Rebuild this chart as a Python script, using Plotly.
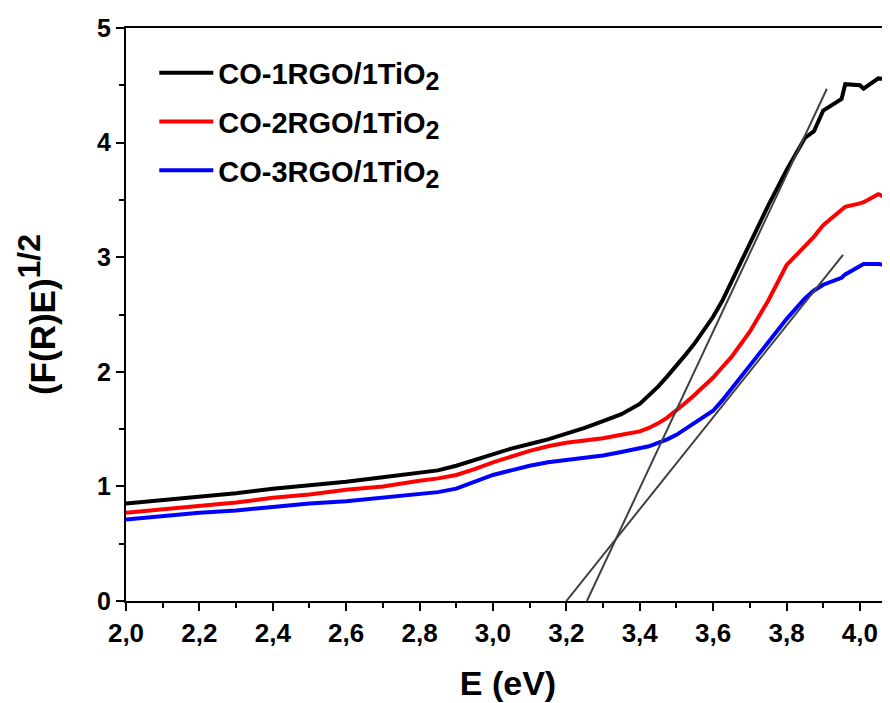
import plotly.graph_objects as go

# Photon energy (eV)
energy = [2.00, 2.10, 2.20, 2.30, 2.40, 2.50, 2.60, 2.70, 2.80, 2.85,
          2.90, 2.95, 3.00, 3.05, 3.10, 3.15, 3.20, 3.25, 3.30, 3.35,
          3.40, 3.425, 3.45, 3.475, 3.50, 3.525, 3.55, 3.575, 3.60, 3.625,
          3.65, 3.70, 3.75, 3.80, 3.85, 3.875, 3.90, 3.95, 3.96, 4.00,
          4.01, 4.05, 4.08]

co1 = [0.85, 0.88, 0.91, 0.94, 0.98, 1.01, 1.04, 1.08, 1.12, 1.14,
       1.18, 1.23, 1.28, 1.33, 1.37, 1.41, 1.46, 1.51, 1.57, 1.63,
       1.72, 1.79, 1.87, 1.96, 2.05, 2.15, 2.25, 2.36, 2.48, 2.62,
       2.79, 3.12, 3.45, 3.76, 4.04, 4.10, 4.28, 4.38, 4.51, 4.50,
       4.47, 4.56, 4.55]

co2 = [0.77, 0.80, 0.83, 0.86, 0.90, 0.93, 0.97, 1.00, 1.05, 1.07,
       1.10, 1.15, 1.21, 1.26, 1.31, 1.35, 1.38, 1.40, 1.42, 1.45,
       1.48, 1.51, 1.55, 1.60, 1.66, 1.73, 1.80, 1.87, 1.95, 2.04,
       2.13, 2.35, 2.62, 2.93, 3.10, 3.18, 3.28, 3.42, 3.44, 3.47,
       3.48, 3.55, 3.51]

co3 = [0.71, 0.74, 0.77, 0.79, 0.82, 0.85, 0.87, 0.90, 0.93, 0.95,
       0.98, 1.04, 1.10, 1.14, 1.18, 1.21, 1.23, 1.25, 1.27, 1.30,
       1.33, 1.35, 1.38, 1.41, 1.45, 1.50, 1.55, 1.60, 1.66, 1.75,
       1.85, 2.05, 2.26, 2.46, 2.64, 2.71, 2.76, 2.82, 2.85, 2.93,
       2.94, 2.94, 2.93]

SUB2 = "<sub><span style='font-size:25px'>2</span></sub>"
series_names = ["CO-1RGO/1TiO" + SUB2, "CO-2RGO/1TiO" + SUB2, "CO-3RGO/1TiO" + SUB2]
series_colors = ["#000000", "#ff0000", "#0000ff"]

# Tangent (band-gap extrapolation) lines
fit1_x = [3.256, 3.91]
fit1_y = [0.0, 4.47]
fit2_x = [3.20, 3.954]
fit2_y = [0.0, 3.02]

x_ticks = [2.0, 2.2, 2.4, 2.6, 2.8, 3.0, 3.2, 3.4, 3.6, 3.8, 4.0]
y_ticks = [0, 1, 2, 3, 4, 5]

FONT = "Liberation Sans, Arial, sans-serif"

fig = go.Figure()
for name, ys, col in zip(series_names, [co1, co2, co3], series_colors):
    fig.add_trace(go.Scatter(x=energy, y=ys, mode="lines", name=name,
                             legendgroup=name,
                             line=dict(color=col, width=4)))

for fx, fy in [(fit1_x, fit1_y), (fit2_x, fit2_y)]:
    fig.add_trace(go.Scatter(x=fx, y=fy, mode="lines", showlegend=False,
                             line=dict(color="#404040", width=2)))

fig.update_layout(
    width=882, height=695,
    margin=dict(l=118, r=0, t=20, b=102, autoexpand=False),
    plot_bgcolor="white", paper_bgcolor="white",
    separators=",.",
    font=dict(family=FONT, color="black"),
    showlegend=True,
    legend=dict(x=0.037, y=0.966, xanchor="left", yanchor="top",
                bgcolor="rgba(0,0,0,0)", borderwidth=0,
                font=dict(family=FONT, size=29, weight="bold", color="black"),
                tracegroupgap=8, itemwidth=54),
)

fig.update_xaxes(
    range=[2.0, 4.082], tickvals=x_ticks, tickformat=".1f", automargin=False,
    showgrid=False, zeroline=False,
    showline=True, linecolor="black", linewidth=2, mirror=True,
    ticks="outside", ticklen=8, tickwidth=2, tickcolor="black",
    minor=dict(dtick=0.1, ticks="outside", ticklen=5, tickwidth=2, tickcolor="black"),
    tickfont=dict(family=FONT, size=26, weight="bold", color="black"),
    title=dict(text="E (eV)", standoff=24,
               font=dict(family=FONT, size=34, weight="bold", color="black")),
)

fig.update_yaxes(
    range=[0, 5], tickvals=y_ticks, automargin=False,
    showgrid=False, zeroline=False,
    showline=True, linecolor="black", linewidth=2, mirror=False,
    ticks="outside", ticklen=8, tickwidth=2, tickcolor="black",
    minor=dict(dtick=0.5, ticks="outside", ticklen=5, tickwidth=2, tickcolor="black"),
    tickfont=dict(family=FONT, size=25, weight="bold", color="black"),
    title=dict(text="(F(R)E)<sup><span style='font-size:32px'>1/2</span></sup>", standoff=31,
               font=dict(family=FONT, size=35, weight="bold", color="black")),
)

fig.write_html("out.html")
